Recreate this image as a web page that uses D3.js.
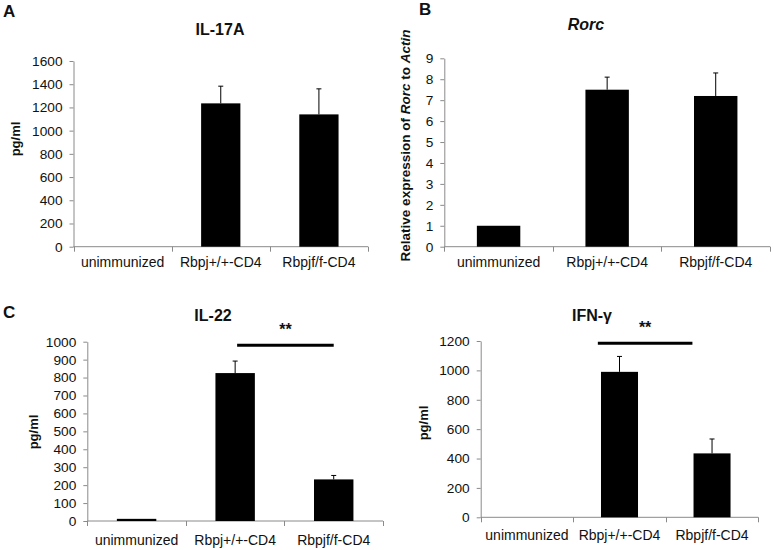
<!DOCTYPE html>
<html>
<head>
<meta charset="utf-8">
<script src="https://cdn.jsdelivr.net/npm/d3@7"></script>
<style>
  html, body { margin: 0; padding: 0; background: #fff; }
  svg { display: block; font-family: "Liberation Sans", Arial, sans-serif; }
</style>
</head>
<body>
<svg id="chart" width="774" height="550"></svg>
<script>
// ---------- data ----------
const categories = ["unimmunized", "Rbpj+/+-CD4", "Rbpjf/f-CD4"];

const il17aValues = [0, 1235, 1140];
const il17aErrors = [0, 148, 220];
const il17aTicks = [0, 200, 400, 600, 800, 1000, 1200, 1400, 1600];

const rorcValues = [1.0, 7.5, 7.2];
const rorcErrors = [0, 0.6, 1.1];
const rorcTicks = [0, 1, 2, 3, 4, 5, 6, 7, 8, 9];

const il22Values = [12, 825, 232];
const il22Errors = [0, 67, 22];
const il22Ticks = [0, 100, 200, 300, 400, 500, 600, 700, 800, 900, 1000];

const ifngValues = [0, 990, 435];
const ifngErrors = [0, 105, 98];
const ifngTicks = [0, 200, 400, 600, 800, 1000, 1200];

// significance brackets: [from category, to category, level value, label]
const il22Sig = ["Rbpj+/+-CD4", "Rbpjf/f-CD4", 980, "**"];
const ifngSig = ["Rbpj+/+-CD4", "Rbpjf/f-CD4", 1184, "**"];

// ---------- drawing ----------
const svg = d3.select("#chart");
const AXIS = "#8a8a8a";
const TXT = "#111";

function panel(cfg) {
  const g = svg.append("g");
  const x = d3.scaleBand().domain(categories).range([cfg.left, cfg.right]).paddingInner(0).paddingOuter(0);
  const ticks = cfg.ticks;
  const y = d3.scaleLinear().domain([0, ticks[ticks.length - 1]]).range([cfg.bottom, cfg.top]);
  const bw = x.bandwidth();

  // y axis
  const ya = g.append("g")
    .attr("transform", `translate(${cfg.left},0)`)
    .call(d3.axisLeft(y).tickValues(ticks).tickSize(4).tickSizeOuter(0).tickPadding(7)
      .tickFormat(d3.format("d")));
  ya.select(".domain").attr("stroke", AXIS);
  ya.selectAll(".tick line").attr("stroke", AXIS);
  ya.selectAll(".tick text").attr("fill", TXT).style("font-size", "13.7px")
    .style("font-family", "'Liberation Sans', Arial, sans-serif");

  // x axis baseline + boundary ticks
  g.append("line").attr("x1", cfg.left).attr("x2", cfg.right)
    .attr("y1", y(0)).attr("y2", y(0)).attr("stroke", AXIS);
  const bounds = d3.range(categories.length + 1).map(i => cfg.left + i * bw);
  g.selectAll(".btick").data(bounds).join("line")
    .attr("x1", d => Math.round(d) + 0.5).attr("x2", d => Math.round(d) + 0.5)
    .attr("y1", y(0)).attr("y2", y(0) + 5).attr("stroke", AXIS);
  g.selectAll(".clabel").data(categories).join("text")
    .attr("x", d => x(d) + bw / 2)
    .attr("y", y(0) + cfg.labelOff)
    .attr("text-anchor", "middle").attr("fill", TXT)
    .style("font-size", "14px").text(d => d);

  // bars
  const data = categories.map((c, i) => ({ c, v: cfg.values[i], e: cfg.errors[i] }));
  g.selectAll(".bar").data(data.filter(d => d.v > 0)).join("rect")
    .attr("x", d => x(d.c) + bw * 0.3)
    .attr("width", bw * 0.4)
    .attr("y", d => y(d.v))
    .attr("height", d => y(0) - y(d.v))
    .attr("fill", "#000");

  // error bars
  const eb = data.filter(d => d.e > 0);
  g.selectAll(".ev").data(eb).join("line")
    .attr("x1", d => x(d.c) + bw / 2).attr("x2", d => x(d.c) + bw / 2)
    .attr("y1", d => y(d.v)).attr("y2", d => y(d.v + d.e))
    .attr("stroke", "#000").attr("stroke-width", 1);
  g.selectAll(".ec").data(eb).join("line")
    .attr("x1", d => x(d.c) + bw / 2 - 2.5).attr("x2", d => x(d.c) + bw / 2 + 2.5)
    .attr("y1", d => y(d.v + d.e)).attr("y2", d => y(d.v + d.e))
    .attr("stroke", "#000").attr("stroke-width", 1);

  // title
  g.append("text").attr("x", cfg.titleX).attr("y", cfg.titleY)
    .attr("text-anchor", "middle").attr("fill", TXT)
    .style("font-size", "16px").style("font-weight", "bold")
    .style("font-style", cfg.titleItalic ? "italic" : "normal")
    .text(cfg.title);

  // panel letter
  if (cfg.letter) {
    g.append("text").attr("x", cfg.letterX).attr("y", cfg.letterY)
      .attr("fill", TXT).style("font-size", "17px").style("font-weight", "bold")
      .text(cfg.letter);
  }

  // y label
  const yl = g.append("text")
    .attr("transform", `translate(${cfg.ylabX},${cfg.ylabY}) rotate(-90)`)
    .attr("text-anchor", "middle").attr("dy", "0.35em").attr("fill", TXT)
    .style("font-size", cfg.ylabSize).style("font-weight", "bold");
  cfg.ylab.forEach(p => yl.append("tspan").style("font-style", p[1] ? "italic" : "normal").text(p[0]));

  // significance
  if (cfg.sig) {
    const [a, b, lvl, lab] = cfg.sig;
    const xa = x(a) + bw * cfg.sigFrac[0], xb2 = x(b) + bw * cfg.sigFrac[1];
    g.append("line").attr("x1", xa).attr("x2", xb2)
      .attr("y1", y(lvl)).attr("y2", y(lvl))
      .attr("stroke", "#000").attr("stroke-width", 3);
    g.append("text").attr("x", (xa + xb2) / 2).attr("y", y(lvl) - cfg.sigTextOff)
      .attr("text-anchor", "middle").attr("fill", TXT)
      .style("font-size", "16px").style("font-weight", "bold").text(lab);
  }
}

panel({
  left: 73.5, right: 368, bottom: 246.7, top: 61,
  ticks: il17aTicks, values: il17aValues, errors: il17aErrors,
  labelOff: 20.5, title: "IL-17A", titleX: 220, titleY: 35,
  letter: "A", letterX: 3, letterY: 17,
  ylab: [["pg/ml", false]], ylabX: 15, ylabY: 139, ylabSize: "13px"
});

panel({
  left: 444.3, right: 770, bottom: 246.7, top: 58.3,
  ticks: rorcTicks, values: rorcValues, errors: rorcErrors,
  labelOff: 20.5, title: "Rorc", titleItalic: true, titleX: 586, titleY: 29.5,
  letter: "B", letterX: 419, letterY: 15,
  ylab: [["Relative expression of ", false], ["Rorc", true], [" to ", false], ["Actin", true]],
  ylabX: 405, ylabY: 145.5, ylabSize: "13.5px"
});

panel({
  left: 87.3, right: 383, bottom: 521, top: 341.7,
  ticks: il22Ticks, values: il22Values, errors: il22Errors,
  labelOff: 23.5, title: "IL-22", titleX: 213, titleY: 320.5,
  letter: "C", letterX: 3, letterY: 318,
  ylab: [["pg/ml", false]], ylabX: 33, ylabY: 432, ylabSize: "13px",
  sig: il22Sig, sigFrac: [0.52, 0.5], sigTextOff: 10
});

panel({
  left: 480.7, right: 758.3, bottom: 517.3, top: 341,
  ticks: ifngTicks, values: ifngValues, errors: ifngErrors,
  labelOff: 23, title: "IFN-γ", titleX: 592, titleY: 321,
  ylab: [["pg/ml", false]], ylabX: 423, ylabY: 423, ylabSize: "13px",
  sig: ifngSig, sigFrac: [0.266, 0.288], sigTextOff: 10
});
</script>
</body>
</html>
